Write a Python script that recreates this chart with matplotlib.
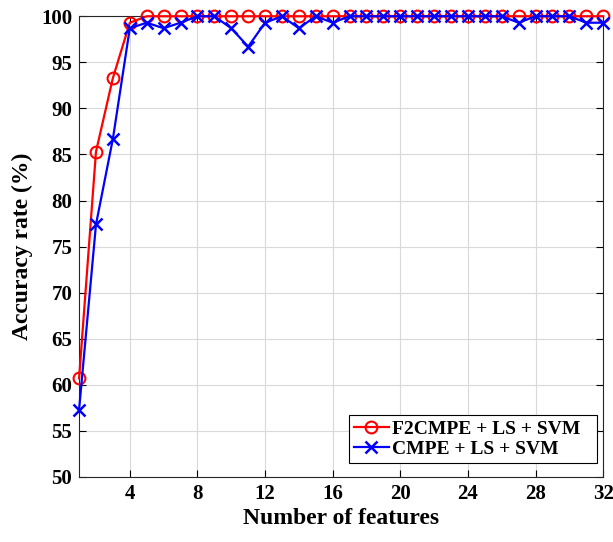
import matplotlib.pyplot as plt
import numpy as np

plt.rcParams['font.family'] = ['Liberation Serif', 'DejaVu Serif']
plt.rcParams['font.weight'] = 'bold'

features = np.arange(1, 33)
f2cmpe = [60.7, 85.3, 93.3, 99.3] + [100.0] * 28
cmpe = [57.3, 77.4, 86.7, 98.7, 99.3, 98.7, 99.3, 100, 100, 98.7,
        96.7, 99.3, 100, 98.7, 100, 99.3, 100, 100, 100, 100,
        100, 100, 100, 100, 100, 100, 99.3, 100, 100, 100,
        99.3, 99.3]
xticks = [4, 8, 12, 16, 20, 24, 28, 32]
yticks = [50, 55, 60, 65, 70, 75, 80, 85, 90, 95, 100]

fig = plt.figure(figsize=(6.13, 5.42), dpi=100)
ax = fig.add_axes([0.129, 0.12, 0.855, 0.85])

ax.plot(features, f2cmpe, color='red', lw=1.6, marker='o', ms=8.5,
        mfc='none', mew=1.5, label='F2CMPE + LS + SVM', clip_on=False, zorder=3)
ax.plot(features, cmpe, color='blue', lw=1.6, marker='x', ms=8,
        mew=1.8, label='CMPE + LS + SVM', clip_on=False, zorder=4)

ax.set_xlim(1, 32)
ax.set_ylim(50, 100)
ax.set_xticks(xticks)
ax.set_yticks(yticks)
ax.tick_params(direction='in', top=True, right=True, labelsize=15, length=5, pad=5)
for lab in ax.get_xticklabels() + ax.get_yticklabels():
    lab.set_fontweight('bold')
ax.grid(True, color='#d9d9d9', lw=0.8)
ax.set_axisbelow(True)
for s in ax.spines.values():
    s.set_linewidth(0.8)
    s.set_color('#262626')

ax.set_xlabel('Number of features', fontsize=17, fontweight='bold', labelpad=3)
ax.set_ylabel('Accuracy rate (%)', fontsize=17, fontweight='bold', labelpad=6)

leg = ax.legend(loc='lower left', bbox_to_anchor=(0.515, 0.03, 0.474, 0.07),
                mode='expand', fontsize=14, fancybox=False, framealpha=1,
                edgecolor='black', handlelength=1.8, borderpad=0.25,
                labelspacing=0.15, handletextpad=0.15, borderaxespad=0)
leg.get_frame().set_linewidth(0.8)
for t in leg.get_texts():
    t.set_fontweight('bold')

fig.savefig('out.png', dpi=100)
